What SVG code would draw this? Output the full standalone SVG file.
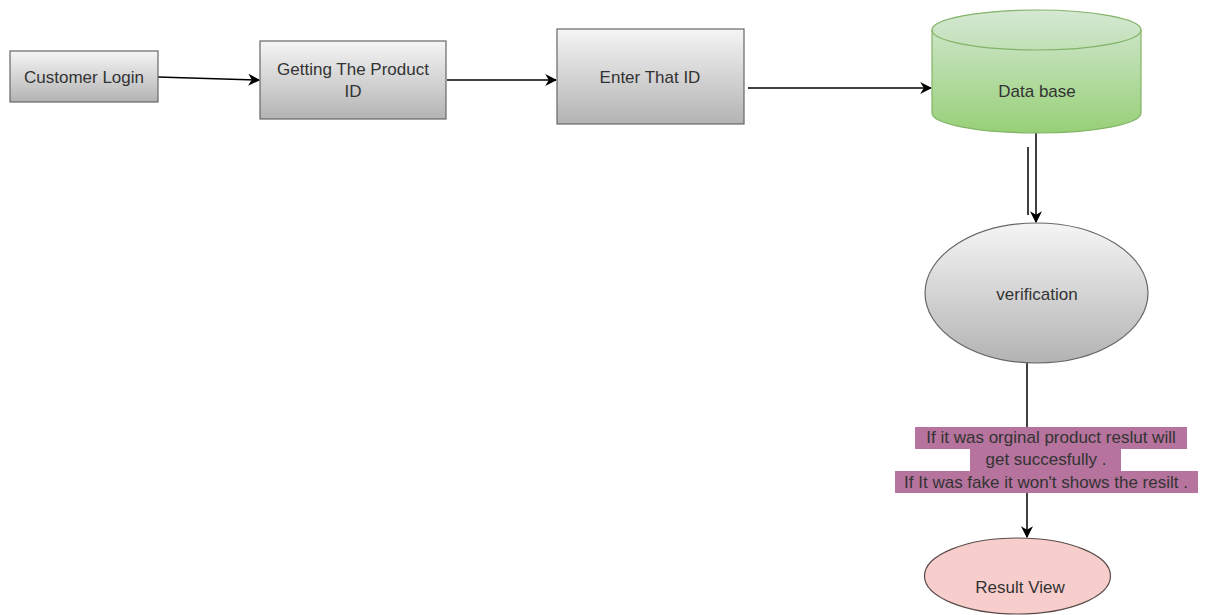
<svg xmlns="http://www.w3.org/2000/svg" width="1212" height="615" viewBox="0 0 1212 615">
<defs>
<linearGradient id="gGray" x1="0" y1="0" x2="0" y2="1"><stop offset="0" stop-color="#f5f5f5"/><stop offset="1" stop-color="#b3b3b3"/></linearGradient>
<linearGradient id="gGreen" x1="0" y1="0" x2="0" y2="1"><stop offset="0" stop-color="#d5e8d4"/><stop offset="1" stop-color="#97d077"/></linearGradient>
<marker id="arr" viewBox="0 0 10 10" refX="9" refY="5" markerWidth="12" markerHeight="12" markerUnits="userSpaceOnUse" orient="auto"><path d="M0,0 L10,5 L0,10 L3,5 Z" fill="#000"/></marker>
<style>
.box{fill:url(#gGray);stroke:#666;stroke-width:1.2}
.t{font-family:"Liberation Sans",Arial,sans-serif;font-size:17px;fill:#333;text-anchor:middle}
.e{stroke:#000;stroke-width:1.5;fill:none}
.lbl{fill:#b5739d}
</style>
</defs>
<rect width="1212" height="615" fill="#fff"/>
<g id="connectors">
<line class="e" x1="158" y1="77" x2="259" y2="80" marker-end="url(#arr)"/>
<line class="e" x1="447" y1="80" x2="556" y2="80" marker-end="url(#arr)"/>
<line class="e" x1="748" y1="88" x2="931" y2="88" marker-end="url(#arr)"/>
<line class="e" x1="1036" y1="133" x2="1036" y2="222" marker-end="url(#arr)" stroke-width="2"/>
<line class="e" x1="1028" y1="147" x2="1028" y2="215"/>
<line class="e" x1="1027" y1="363" x2="1027" y2="537" marker-end="url(#arr)"/>
</g>
<g id="customer-login">
<rect class="box" x="10" y="51" width="148" height="51"/>
<text class="t" x="84" y="83">Customer Login</text>
</g>
<g id="getting-product-id">
<rect class="box" x="260" y="41" width="186" height="78"/>
<text class="t" x="353" y="75">Getting The Product</text>
<text class="t" x="353" y="97">ID</text>
</g>
<g id="enter-id">
<rect class="box" x="557" y="29" width="187" height="95"/>
<text class="t" x="650" y="83">Enter That ID</text>
</g>
<g id="database">
<path d="M932,30 L932,113 A104.5,20 0 0 0 1141,113 L1141,30 A104.5,20 0 0 0 932,30 Z" fill="url(#gGreen)" stroke="#82b366" stroke-width="1.2"/>
<path d="M932,30 A104.5,20 0 0 0 1141,30" fill="none" stroke="#82b366" stroke-width="1.2"/>
<text class="t" x="1037" y="97">Data base</text>
</g>
<g id="verification">
<ellipse cx="1036.5" cy="293" rx="111.5" ry="70" fill="url(#gGray)" stroke="#666" stroke-width="1.2"/>
<text class="t" x="1037" y="300">verification</text>
</g>
<g id="edge-label">
<rect class="lbl" x="915" y="427" width="272" height="22"/>
<rect class="lbl" x="970" y="449" width="151" height="22"/>
<rect class="lbl" x="895" y="471" width="303" height="22"/>
<text class="t" x="1051" y="443">If it was orginal product reslut will</text>
<text class="t" x="1046" y="465">get succesfully .</text>
<text class="t" x="1046" y="488">If It was fake it won't shows the resilt .</text>
</g>
<g id="result-view">
<ellipse cx="1017.5" cy="576" rx="93" ry="38" fill="#f8cecc" stroke="#5a4a4a" stroke-width="1.2"/>
<text class="t" x="1020" y="593">Result View</text>
</g>
</svg>
